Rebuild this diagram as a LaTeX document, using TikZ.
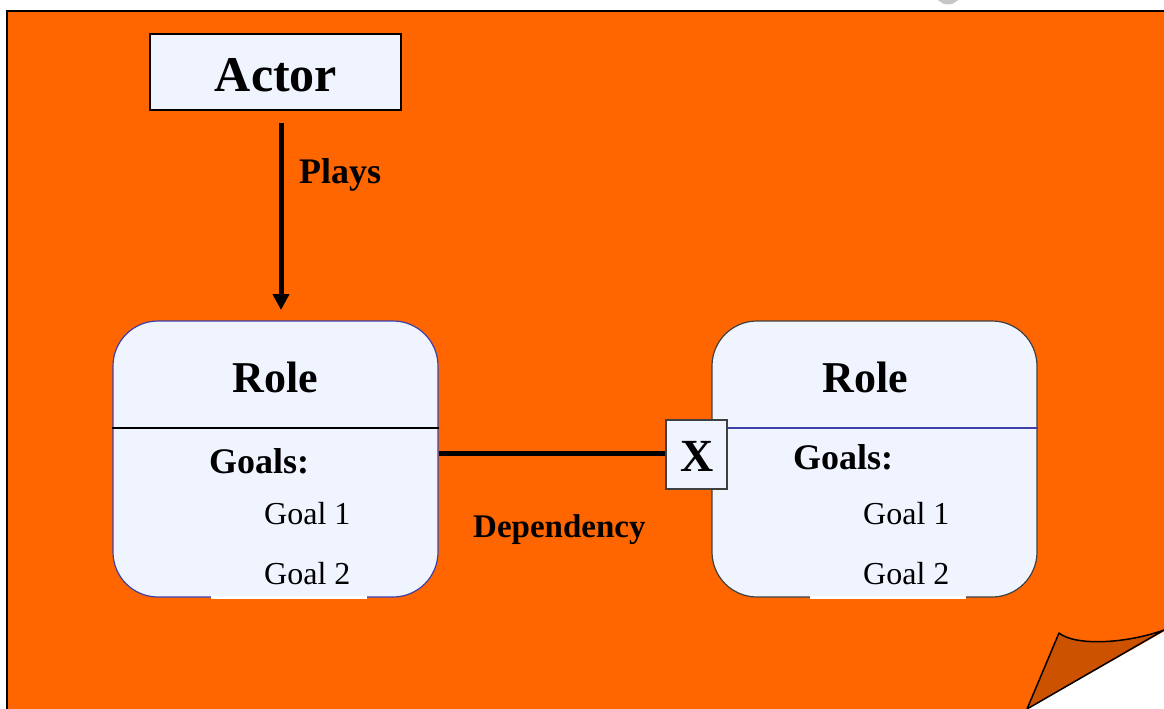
\documentclass[tikz,border=0pt]{standalone}
\usepackage{fontspec}
\setmainfont{Liberation Serif}
\usetikzlibrary{arrows.meta}
\begin{document}
\begin{tikzpicture}[x=1pt,y=-1pt,
  plainbox/.style={draw=black, line width=1.2pt, fill=panel, inner sep=0pt},
  rolebox/.style={fill=panel, rounded corners=45pt, line width=1.2pt, inner sep=0pt,
                  minimum width=325pt, minimum height=276pt},
  heavy/.style={line width=5pt},
  boldlab/.style={font=\bfseries, inner sep=0pt},
  goal/.style={font=\fontsize{32}{36}\selectfont, inner sep=0pt, anchor=base west}]
\definecolor{sheet}{HTML}{FF6600}
\definecolor{fold}{HTML}{CC5200}
\definecolor{panel}{HTML}{EFF4FF}
\definecolor{rolerim}{HTML}{3F3FA8}
\definecolor{rimgray}{HTML}{404040}

\useasboundingbox (0,0) rectangle (1164,709);
\clip (0,0) rectangle (1164,709);

% small grey disc peeking in at the top edge
\fill[gray!45] (948,-9) circle (13.5);

% orange sheet with a folded corner
\fill[sheet] (7,11) -- (1170,11) -- (1170,628) -- (1027,709) -- (1027,715) -- (7,715) -- cycle;
\draw[line width=2pt] (7,720) -- (7,11) -- (1170,11);
\draw[line width=1.5pt, fill=fold, line join=round]
  (1059,633) .. controls (1075,646) and (1125,644) .. (1164,630)
  -- (1027,709) -- cycle;

% actor
\node[plainbox, minimum width=251pt, minimum height=76pt] (actor) at (275.5,72) {};
\node[boldlab, font=\bfseries\fontsize{50}{54}\selectfont, anchor=base] (actortxt) at (276,91) {Actor};

% roles
\node[rolebox, draw=rolerim] (roleA) at (275.5,459) {};
\node[rolebox, draw=rimgray] (roleB) at (874.5,459) {};
\draw[line width=1.2pt, black] ([yshift=31pt]roleA.west) -- ([yshift=31pt]roleA.east);
\draw[line width=1.2pt, rolerim] ([yshift=31pt]roleB.west) -- ([yshift=31pt]roleB.east);
\draw[white, line width=3pt] (211,597) -- (367,597);
\draw[white, line width=3pt] (810,597) -- (966,597);

\node[boldlab, font=\bfseries\fontsize{44}{48}\selectfont, anchor=base] (roleAt) at (275,392) {Role};
\node[boldlab, font=\bfseries\fontsize{44}{48}\selectfont, anchor=base] (roleBt) at (865,392) {Role};

\node[boldlab, font=\bfseries\fontsize{36}{40}\selectfont, anchor=base west] (goalsA) at (209,473) {Goals:};
\node[goal] (gA1) at (264,524) {Goal 1};
\node[goal] (gA2) at (264,584) {Goal 2};
\node[boldlab, font=\bfseries\fontsize{36}{40}\selectfont, anchor=base west] (goalsB) at (793,469) {Goals:};
\node[goal] (gB1) at (863,524) {Goal 1};
\node[goal] (gB2) at (863,584) {Goal 2};

% dependency marker
\node[plainbox, draw=rimgray, minimum width=61pt, minimum height=69pt] (xmark) at (696.5,454.5) {};
\node[boldlab, font=\bfseries\fontsize{46}{50}\selectfont, anchor=base] (xtxt) at (697,471) {X};

% connectors
\draw[heavy] (roleA.east |- 0,453) -- (xmark.west |- 0,453);
\coordinate (playsEnd) at (281,310);
\draw[line width=5pt, -{Triangle[length=16pt,width=16pt]}] (actor.south -| playsEnd) ++(0,12) -- (playsEnd);

\node[boldlab, font=\bfseries\fontsize{36}{40}\selectfont, anchor=base west] (plays) at (299,183) {Plays};
\node[boldlab, font=\bfseries\fontsize{33}{36}\selectfont, anchor=base west] (dep) at (473,537) {Dependency};
\end{tikzpicture}
\end{document}
